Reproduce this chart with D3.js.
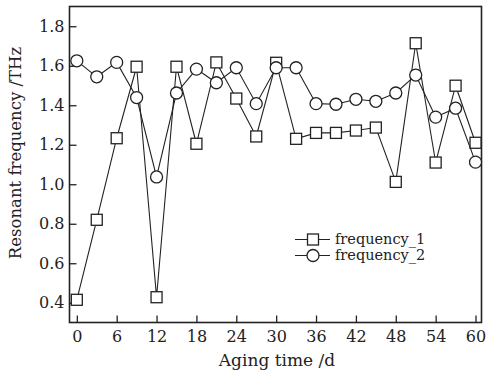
<!DOCTYPE html>
<html>
<head>
<meta charset="utf-8">
<script src="https://cdn.jsdelivr.net/npm/d3@7"></script>
<style>
  html, body { margin: 0; padding: 0; background: #fff; }
  svg { display: block; }
  text { font-family: "DejaVu Serif", serif; fill: #222; }
</style>
</head>
<body>
<svg id="chart" width="487" height="376"></svg>
<script>
const agingDays = [0, 3, 6, 9, 12, 15, 18, 21, 24, 27, 30, 33, 36, 39, 42, 45, 48, 51, 54, 57, 60];
const frequency1 = [0.415, 0.82, 1.233, 1.595, 0.428, 1.595, 1.205, 1.617, 1.434, 1.242, 1.615, 1.23, 1.26, 1.26, 1.272, 1.287, 1.012, 1.714, 1.11, 1.499, 1.21];
const frequency2 = [1.625, 1.544, 1.617, 1.439, 1.037, 1.462, 1.583, 1.514, 1.59, 1.408, 1.59, 1.59, 1.408, 1.405, 1.43, 1.42, 1.462, 1.553, 1.34, 1.385, 1.112];
const xTicks = [0, 6, 12, 18, 24, 30, 36, 42, 48, 54, 60];
const yTicks = [0.4, 0.6, 0.8, 1.0, 1.2, 1.4, 1.6, 1.8];
const seriesNames = ["frequency_1", "frequency_2"];

const svg = d3.select("#chart");
const mLeft = 69.5, mRight = 481.5, mTop = 6.5, mBottom = 322.5;
const x = d3.scaleLinear().domain([-1.1, 60.9]).range([mLeft, mRight]);
const y = d3.scaleLinear().domain([0.3, 1.9]).range([mBottom, mTop]);
const ink = "#222";

// frame
svg.append("rect").attr("x", mLeft).attr("y", mTop).attr("width", mRight - mLeft).attr("height", mBottom - mTop)
  .attr("fill", "none").attr("stroke", ink).attr("stroke-width", 1.6);

// axes with inward ticks
const xAxis = svg.append("g").attr("transform", `translate(0,${mBottom})`)
  .call(d3.axisBottom(x).tickValues(xTicks).tickSizeInner(-7).tickSizeOuter(0).tickPadding(8).tickFormat(d3.format("d")));
const yAxis = svg.append("g").attr("transform", `translate(${mLeft},0)`)
  .call(d3.axisLeft(y).tickValues(yTicks).tickSizeInner(-7).tickSizeOuter(0).tickPadding(5).tickFormat(d3.format(".1f")));
[xAxis, yAxis].forEach(g => {
  g.select(".domain").remove();
  g.selectAll(".tick line").attr("stroke", ink).attr("stroke-width", 1.3);
  g.selectAll(".tick text").attr("font-size", 16).attr("font-family", "DejaVu Serif, serif").attr("fill", ink);
});

// axis titles
svg.append("text").attr("x", 277).attr("y", 366).attr("text-anchor", "middle").attr("font-size", 17).text("Aging time /d");
svg.append("text").attr("transform", "translate(21,153) rotate(-90)").attr("text-anchor", "middle").attr("font-size", 16.5)
  .text("Resonant frequency /THz");

const line = d3.line().x((d, i) => x(agingDays[i])).y(d => y(d));
function drawSeries(vals, shape) {
  svg.append("path").datum(vals).attr("d", line).attr("fill", "none").attr("stroke", ink).attr("stroke-width", 1.1);
  const g = svg.append("g");
  vals.forEach((v, i) => {
    if (shape === "square") {
      g.append("rect").attr("x", x(agingDays[i]) - 5.5).attr("y", y(v) - 5.5).attr("width", 11).attr("height", 11)
        .attr("fill", "#fff").attr("stroke", ink).attr("stroke-width", 1.3);
    } else {
      g.append("circle").attr("cx", x(agingDays[i])).attr("cy", y(v)).attr("r", 6)
        .attr("fill", "#fff").attr("stroke", ink).attr("stroke-width", 1.3);
    }
  });
}
drawSeries(frequency1, "square");
drawSeries(frequency2, "circle");

// legend
const legend = svg.append("g");
seriesNames.forEach((name, i) => {
  const ly = 239.5 + i * 16;
  legend.append("line").attr("x1", 295).attr("x2", 330).attr("y1", ly).attr("y2", ly).attr("stroke", ink).attr("stroke-width", 1.1);
  if (i === 0) {
    legend.append("rect").attr("x", 307.5).attr("y", ly - 5.5).attr("width", 11).attr("height", 11)
      .attr("fill", "#fff").attr("stroke", ink).attr("stroke-width", 1.3);
  } else {
    legend.append("circle").attr("cx", 313).attr("cy", ly).attr("r", 6)
      .attr("fill", "#fff").attr("stroke", ink).attr("stroke-width", 1.3);
  }
  legend.append("text").attr("x", 335).attr("y", ly + 4.5).attr("font-size", 14.5).text(name);
});
</script>
</body>
</html>
